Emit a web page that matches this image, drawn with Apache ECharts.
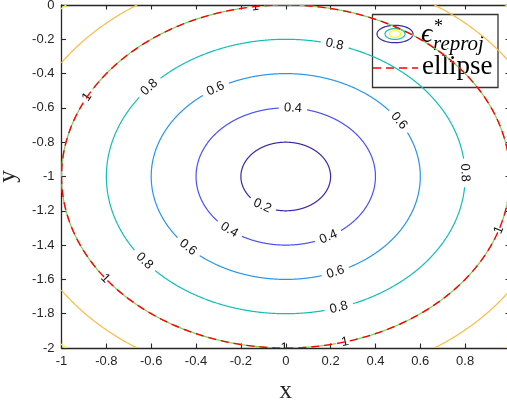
<!DOCTYPE html>
<html>
<head>
<meta charset="utf-8">
<script src="https://cdn.jsdelivr.net/npm/echarts@6/dist/echarts.min.js"></script>
<style>
  html, body { margin: 0; padding: 0; background: #ffffff; }
  #chart { width: 507px; height: 404px; }
</style>
</head>
<body>
<div id="chart"></div>
<script>
// Contour levels of the reprojection error and their colours (parula)
const levels = [0.2, 0.4, 0.6, 0.8, 1.0, 1.2, 1.4];
const levelColors = ['#3e26a8', '#4852f4', '#2796eb', '#13beb9', '#80cc59', '#fbbc41', '#f9fb0e'];
// The error grows with distance from this point (x, y)
const bowlCenter = [0, -1];
// Inline contour labels: angle (degrees) around the centre for each level
const labelAngles = [
  [238.5],
  [85.4, 231, 298.4],
  [121.4, 32.7, 223.5, 291.7],
  [139.5, 74.2, 1.6, 218, 287.2],
  [152.4, 97.8, 341.8, 216.4, 269.6, 285.3],
  [],
  []
];
// Fitted ellipse: centre and semi-axes in data units
const ellipseCenter = [0, -1];
const ellipseAxes = [1, 1];
// Axis ranges and tick spacing
const xRange = [-1, 1];
const yRange = [-2, 0];
const tickStep = 0.2;

const axisColor = '#262626';
const sansFont = '"Liberation Sans", Arial, Helvetica, sans-serif';
const serifFont = '"Liberation Serif", "Times New Roman", serif';
const labelFont = '13px ' + sansFont;

const measureCtx = document.createElement('canvas').getContext('2d');
function textWidth(str, font) {
  measureCtx.font = font;
  return measureCtx.measureText(str).width;
}

function inBox(x, y) {
  return x >= xRange[0] && x <= xRange[1] && y >= yRange[0] && y <= yRange[1];
}

// One group per level: the clipped circle split around its labels, plus the labels
function renderContour(params, api) {
  const i = params.dataIndex;
  const r = api.value(1);
  const color = levelColors[i];
  const text = String(levels[i]);
  const halfGap = textWidth(text, labelFont) / 2 + 5;
  const cx = bowlCenter[0], cy = bowlCenter[1];

  const labels = labelAngles[i].map(function (deg) {
    const a = deg * Math.PI / 180;
    const p = api.coord([cx + r * Math.cos(a), cy + r * Math.sin(a)]);
    const q = api.coord([cx + r * Math.cos(a + 0.01), cy + r * Math.sin(a + 0.01)]);
    let rot = Math.atan2(-(q[1] - p[1]), q[0] - p[0]);
    if (rot > Math.PI / 2) rot -= Math.PI;
    if (rot <= -Math.PI / 2) rot += Math.PI;
    return { p: p, rot: rot };
  });

  const N = 1440;
  const inside = [];
  const pts = [];
  for (let k = 0; k <= N; k++) {
    const t = k / N * Math.PI * 2;
    const x = cx + r * Math.cos(t), y = cy + r * Math.sin(t);
    pts.push(api.coord([x, y]));
    inside.push(inBox(x, y));
  }
  const segments = [];
  let cur = null;
  for (let k = 0; k <= N; k++) {
    const near = inside[k] || (k > 0 && inside[k - 1]) || (k < N && inside[k + 1]);
    let visible = near;
    if (visible) {
      for (let j = 0; j < labels.length; j++) {
        const dx = pts[k][0] - labels[j].p[0], dy = pts[k][1] - labels[j].p[1];
        if (dx * dx + dy * dy < halfGap * halfGap) { visible = false; break; }
      }
    }
    if (visible) {
      if (!cur) { cur = { start: k, points: [] }; segments.push(cur); }
      cur.points.push(pts[k]);
      cur.end = k;
    } else {
      cur = null;
    }
  }
  if (segments.length > 1 && segments[0].start === 0 && segments[segments.length - 1].end === N) {
    const last = segments.pop();
    segments[0].points = last.points.concat(segments[0].points);
  }

  const children = segments.map(function (s) {
    return {
      type: 'polyline',
      shape: { points: s.points },
      style: { stroke: color, fill: null, lineWidth: 1.2 },
      silent: true
    };
  });
  labels.forEach(function (lb) {
    children.push({
      type: 'text',
      x: lb.p[0],
      y: lb.p[1],
      rotation: lb.rot,
      style: {
        text: text,
        font: labelFont,
        fill: '#141414',
        align: 'center',
        verticalAlign: 'middle'
      },
      silent: true
    });
  });
  return { type: 'group', children: children };
}

function renderEllipse(params, api) {
  const c = [api.value(0), api.value(1)];
  const a = api.value(2), b = api.value(3);
  const points = [];
  for (let k = 0; k <= 720; k++) {
    const t = k / 720 * Math.PI * 2 + Math.PI / 2;
    points.push(api.coord([c[0] + a * Math.cos(t), c[1] + b * Math.sin(t)]));
  }
  return {
    type: 'polyline',
    shape: { points: points },
    style: { stroke: '#ff0000', fill: null, lineWidth: 1.4, lineDash: [8, 5] },
    silent: true
  };
}

function ellipsePoints(cx, cy, rx, ry) {
  const pts = [];
  for (let k = 0; k < 72; k++) {
    const t = k / 72 * Math.PI * 2;
    pts.push([cx + rx * Math.cos(t), cy + ry * Math.sin(t)]);
  }
  return pts;
}

function valueAxis(pos, range, showLabels, extra) {
  return Object.assign({
    type: 'value',
    position: pos,
    min: range[0],
    max: range[1],
    interval: tickStep,
    axisLine: { show: true, onZero: false, lineStyle: { color: axisColor, width: 1.3 } },
    axisTick: { show: true, inside: true, length: 4.5, lineStyle: { color: axisColor, width: 1.1 } },
    axisLabel: showLabels
      ? { show: true, fontFamily: sansFont, fontSize: 13, color: axisColor, margin: 7, showMaxLabel: pos !== 'bottom' }
      : { show: false },
    splitLine: { show: false }
  }, extra || {});
}

const chart = echarts.init(document.getElementById('chart'), null, { renderer: 'canvas' });

chart.setOption({
  animation: false,
  backgroundColor: '#ffffff',
  grid: { left: 61.5, top: 5, right: -3, bottom: 56, containLabel: false, outerBoundsMode: 'none' },
  xAxis: [
    valueAxis('bottom', xRange, true, {
      name: 'x', nameLocation: 'middle', nameGap: 31,
      nameTextStyle: { fontFamily: serifFont, fontSize: 25, color: axisColor }
    }),
    valueAxis('top', xRange, false)
  ],
  yAxis: [
    valueAxis('left', yRange, true, {
      name: 'y', nameLocation: 'middle', nameGap: 38, nameRotate: 90,
      nameTextStyle: { fontFamily: serifFont, fontSize: 25, color: axisColor }
    }),
    valueAxis('right', yRange, false)
  ],
  series: [
    {
      type: 'custom',
      name: 'contours',
      xAxisIndex: 0,
      yAxisIndex: 0,
      clip: true,
      z: 2,
      renderItem: renderContour,
      data: levels.map(function (v, i) { return [i, v]; })
    },
    {
      type: 'custom',
      name: 'ellipse',
      xAxisIndex: 0,
      yAxisIndex: 0,
      clip: true,
      z: 3,
      renderItem: renderEllipse,
      data: [[ellipseCenter[0], ellipseCenter[1], ellipseAxes[0], ellipseAxes[1]]]
    }
  ],
  graphic: [
    {
      type: 'group',
      z: 100,
      children: [
        { type: 'rect', shape: { x: 372.5, y: 14.5, width: 125.5, height: 73 },
          style: { fill: '#ffffff', stroke: '#333333', lineWidth: 1.3 } },
        { type: 'polygon', shape: { points: ellipsePoints(395, 34, 18, 8.7) },
          style: { fill: null, stroke: levelColors[0], lineWidth: 1.2 } },
        { type: 'polygon', shape: { points: ellipsePoints(395, 34, 10, 5.4) },
          style: { fill: null, stroke: levelColors[3], lineWidth: 1.2 } },
        { type: 'polygon', shape: { points: ellipsePoints(395, 34, 5.7, 3.3) },
          style: { fill: null, stroke: levelColors[6], lineWidth: 1.2 } },
        { type: 'text', x: 421, y: 35,
          style: { text: '\u03F5', font: 'italic 28px ' + serifFont, fill: '#000', align: 'left', verticalAlign: 'middle' } },
        { type: 'text', x: 434, y: 27,
          style: { text: '*', font: '18px ' + serifFont, fill: '#000', align: 'left', verticalAlign: 'middle' } },
        { type: 'text', x: 433, y: 44,
          style: { text: 'reproj', font: 'italic 21px ' + serifFont, fill: '#000', align: 'left', verticalAlign: 'middle' } },
        { type: 'line', shape: { x1: 373, y1: 68, x2: 418, y2: 68 },
          style: { stroke: '#ff0000', lineWidth: 1.4, lineDash: [8, 5] } },
        { type: 'text', x: 422, y: 67,
          style: { text: 'ellipse', font: '27px ' + serifFont, fill: '#000', align: 'left', verticalAlign: 'middle' } }
      ]
    }
  ]
});
</script>
</body>
</html>
